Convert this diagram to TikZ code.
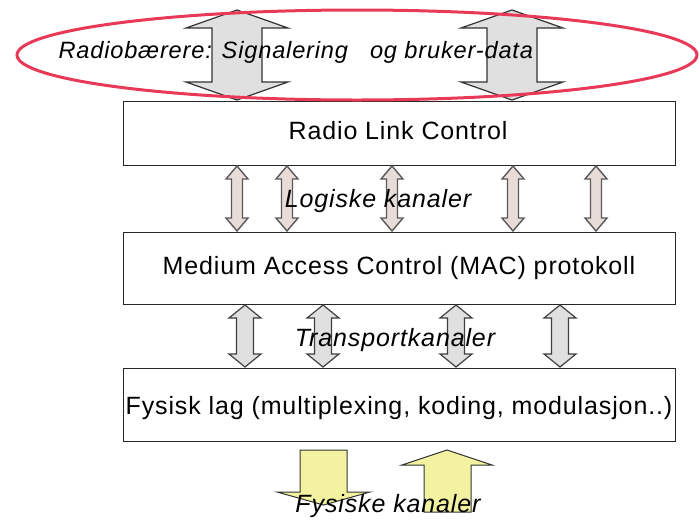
\documentclass[tikz,border=0pt]{standalone}
\usepackage{fontspec}
\setmainfont{Liberation Sans}[LetterSpace=3.5]
\newcommand{\blockdarrow}[7]{% x, ytop, ybot, shaft w, head w, head h, style
  \draw[#7] (#1,#2) -- ({#1+#5/2},{#2+#6}) -- ({#1+#4/2},{#2+#6}) -- ({#1+#4/2},{#3-#6})
    -- ({#1+#5/2},{#3-#6}) -- (#1,#3) -- ({#1-#5/2},{#3-#6}) -- ({#1-#4/2},{#3-#6})
    -- ({#1-#4/2},{#2+#6}) -- ({#1-#5/2},{#2+#6}) -- cycle;}
\begin{document}
\begin{tikzpicture}[x=1pt,y=-1pt,
  layerbox/.style={draw=black!85,line width=1pt,fill=white,inner sep=0pt},
  lbl/.style={font=\fontsize{25}{30}\selectfont,text=black},
  ilbl/.style={font=\fontsize{25}{30}\selectfont\itshape,text=black},
  bigarr/.style={draw=black!80,line width=1.2pt,fill=black!12},
  logarr/.style={draw=black!65,line width=1.4pt,fill={rgb,255:red,232;green,220;blue,216}},
  trarr/.style={draw=black!75,line width=1.2pt,fill=black!12},
  yelarr/.style={draw=black!80,line width=1pt,fill={rgb,255:red,242;green,242;blue,160}},
  ring/.style={draw={rgb,255:red,232;green,58;blue,88},line width=3pt}]
\useasboundingbox (0,0) rectangle (700,520);
% layer boxes
\node[layerbox,minimum width=552pt,minimum height=64pt,anchor=north west] (rlc) at (123,101) {};
\node[layerbox,minimum width=552pt,minimum height=72pt,anchor=north west] (mac) at (123,232) {};
\node[layerbox,minimum width=552pt,minimum height=73pt,anchor=north west] (phy) at (123,368) {};
% top big arrows
\blockdarrow{237}{10}{100}{50}{102}{18}{bigarr}
\blockdarrow{512}{10}{100}{50}{102}{18}{bigarr}
% logical channel arrows
\foreach \xx in {237,287,392,513,596}
  \blockdarrow{\xx}{166}{231}{11}{22}{13}{logarr};
% transport channel arrows
\foreach \xx in {245,323,456,560}
  \blockdarrow{\xx}{305}{367}{17}{32}{13}{trarr};
% physical channel arrows
\draw[yelarr] (300,450) -- (347,450) -- (347,492) -- (370,492) -- (323.5,505) -- (277,492) -- (300,492) -- cycle;
\draw[yelarr] (447,450) -- (492,465) -- (471,465) -- (471,512) -- (424,512) -- (424,465) -- (402,465) -- cycle;
% ellipse
\draw[ring] (357,55) ellipse [x radius=340, y radius=45];
% texts
\node[ilbl,font=\fontsize{23.6}{28}\selectfont\itshape,anchor=west] (rb) at (55,52) {Radiobærere: Signalering\hspace{22pt}og bruker-data};
\node[lbl] (t1) at (398,131) {Radio Link Control};
\node[ilbl] (t2) at (378,201) {Logiske kanaler};
\node[lbl] (t3) at (399,268) {Medium Access Control (MAC)\ protokoll};
\node[ilbl] (t4) at (395,340) {Transportkanaler};
\node[lbl] (t5) at (399,408) {Fysisk lag (multiplexing, koding, modulasjon..)};
\node[ilbl] (t6) at (388,506) {Fysiske kanaler};
\end{tikzpicture}
\end{document}
